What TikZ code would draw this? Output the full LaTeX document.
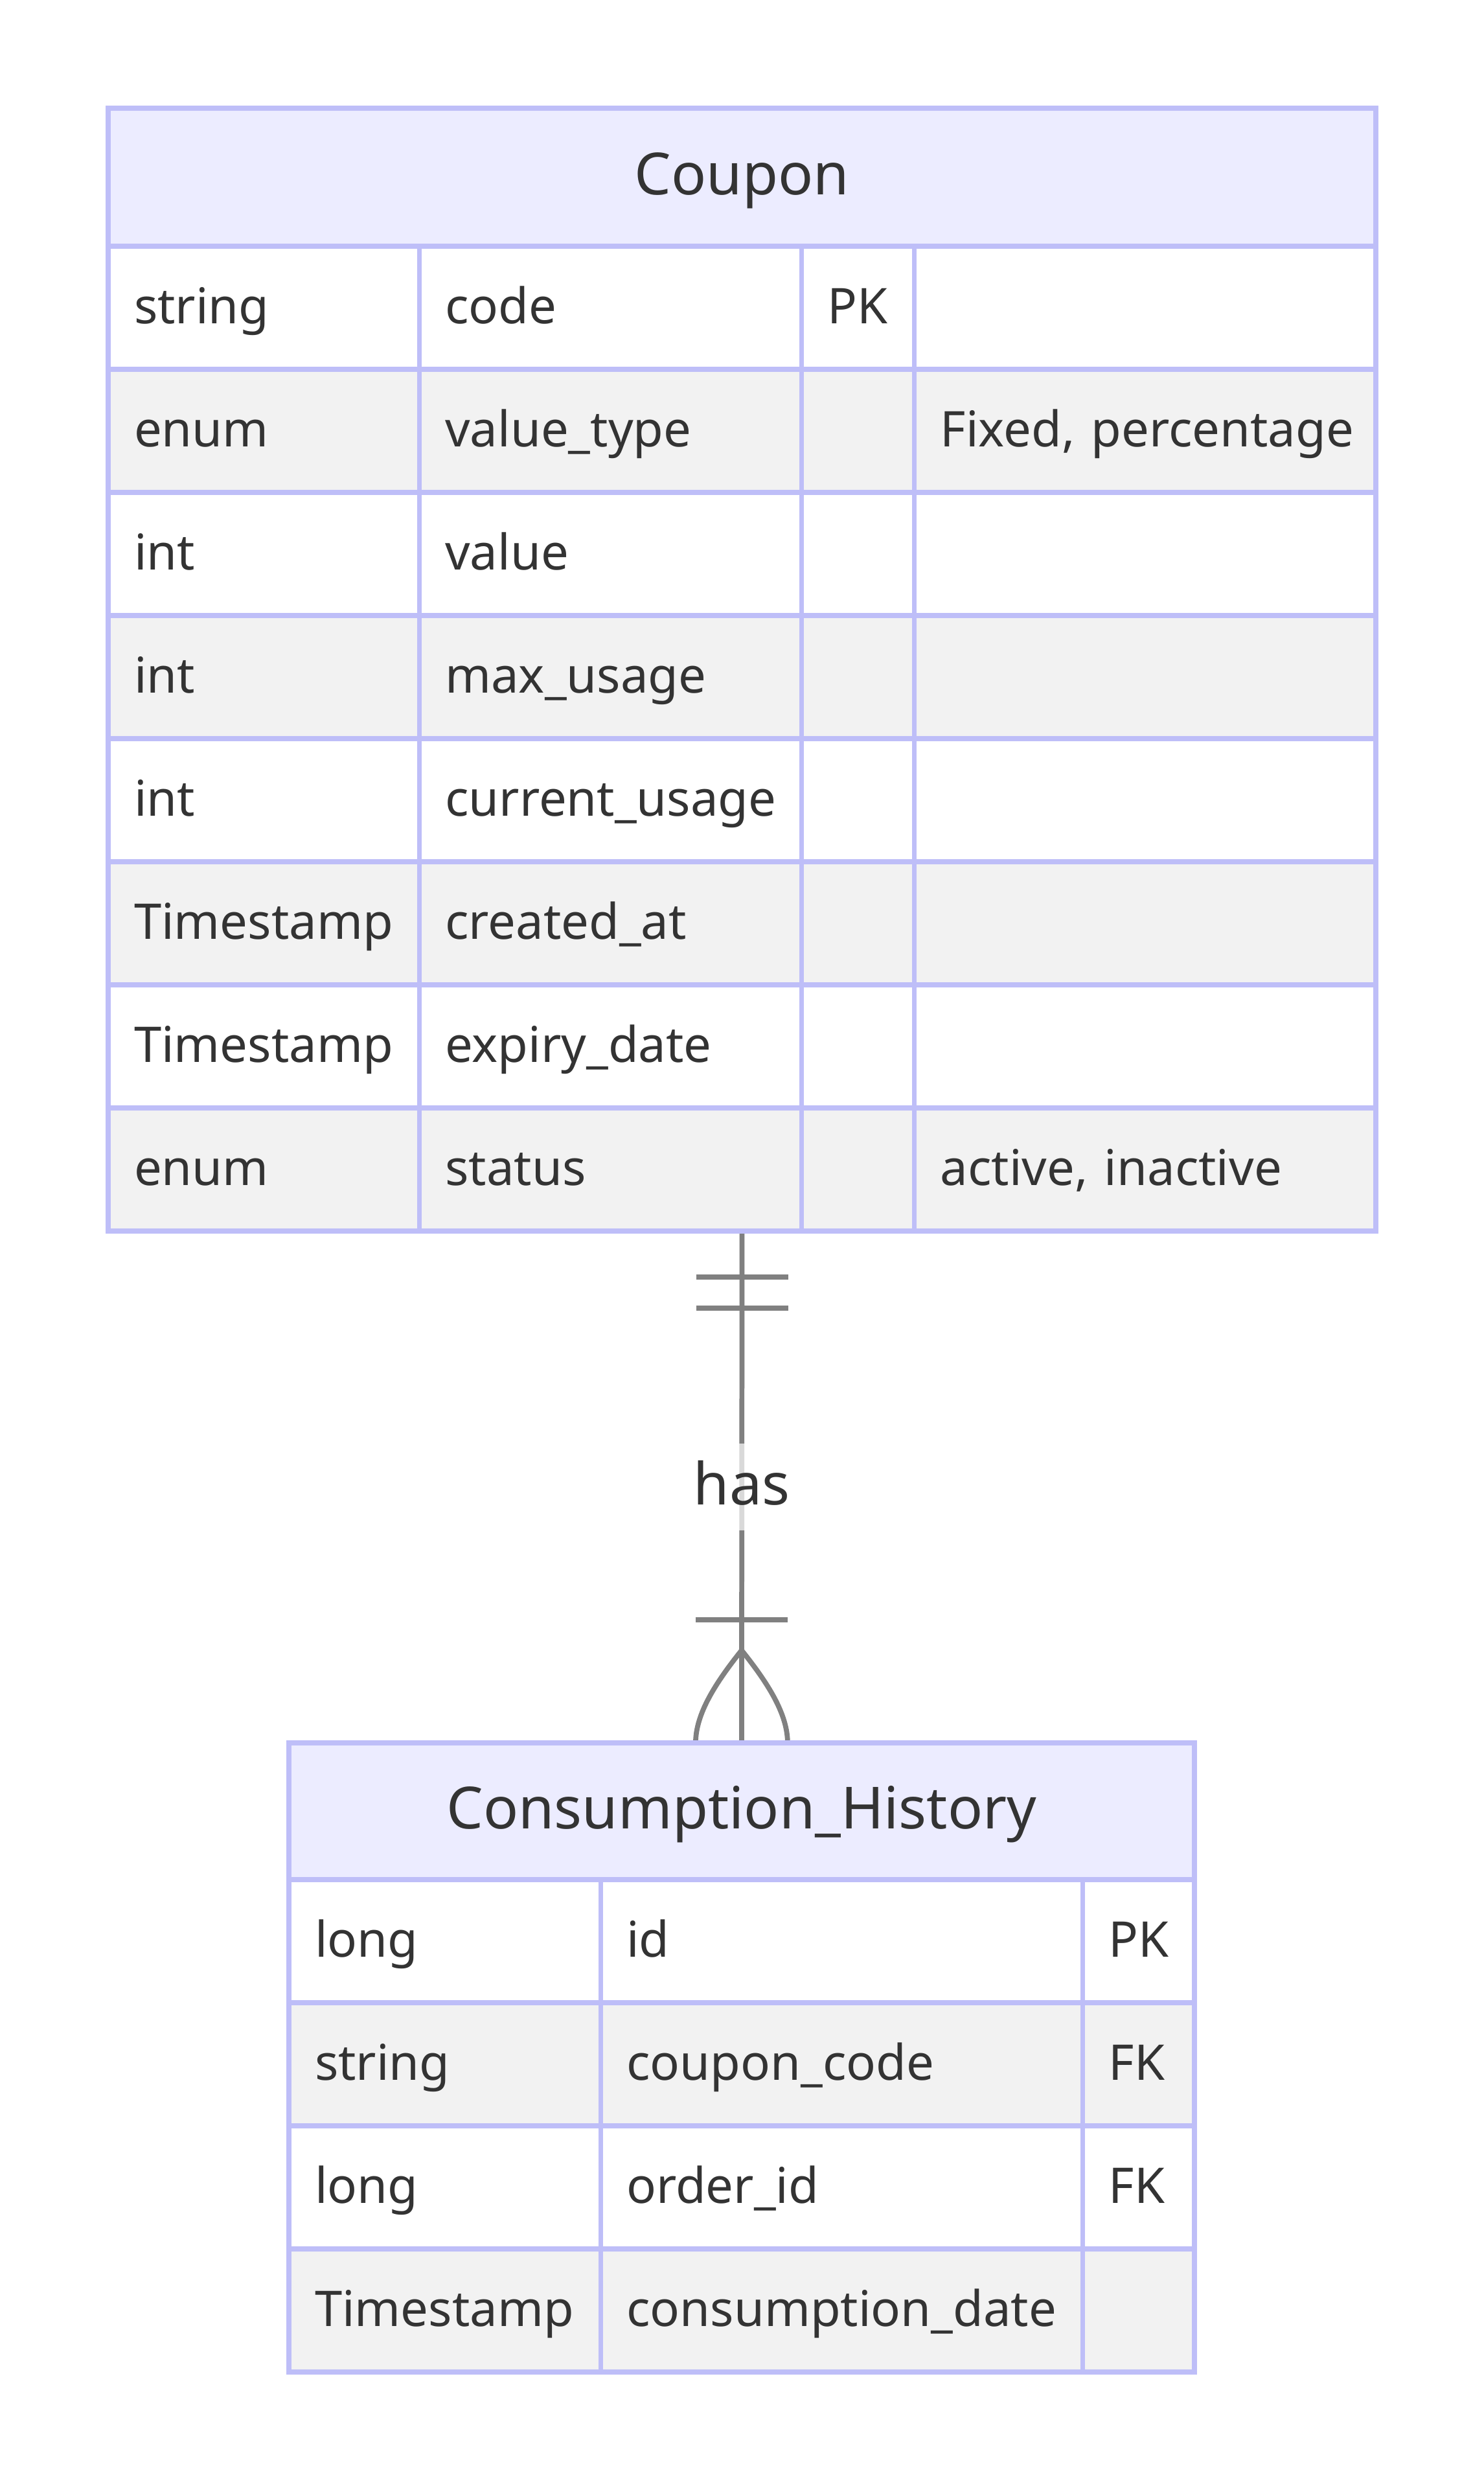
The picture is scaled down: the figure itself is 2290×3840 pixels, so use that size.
\documentclass[tikz,border=0pt]{standalone}
\usepackage{fontspec}
\setmainfont{Noto Sans}
\usepackage{tikz}
\usetikzlibrary{
  positioning,
  calc,
  backgrounds
}
\definecolor{erline}{RGB}{190,190,248}
\definecolor{erhead}{RGB}{236,236,255}
\definecolor{rowgray}{RGB}{242,242,242}
\definecolor{ink}{RGB}{51,51,51}
\definecolor{relgray}{RGB}{128,128,128}

\begin{document}
\begin{tikzpicture}[
    x=0.01cm, y=-0.01cm,
    ehead/.style={draw=erline, line width=2.1pt, fill=erhead, outer sep=0pt,
                  inner sep=0pt, text=ink, font=\fontsize{25.5}{30}\selectfont,
                  text height=0.72cm, text depth=0.18cm, anchor=north west},
    cell/.style={draw=erline, line width=2.1pt, outer sep=0pt,
                 inner xsep=0.4cm, inner ysep=0pt, minimum height=1.9cm,
                 align=left, text=ink, font=\fontsize{21.6}{26}\selectfont,
                 text height=0.62cm, text depth=0.14cm},
    colT/.style={cell, text width=4.00cm},
    colN/.style={cell, text width=5.10cm},
    colK/.style={cell, text width=0.94cm},
    colC/.style={cell, text width=6.32cm},
    hisT/.style={cell, text width=4.01cm},
    hisN/.style={cell, text width=6.64cm},
    hisK/.style={cell, text width=0.92cm},
    rel/.style={draw=relgray, line width=2.2pt},
    lbl/.style={fill=white, fill opacity=0.7, text opacity=1, text=ink,
                font=\fontsize{25.5}{30}\selectfont, inner xsep=2pt,
                inner ysep=0pt, text height=0.72cm, text depth=0.18cm,
                minimum height=1.34cm},
  ]
  \useasboundingbox (0,0) rectangle (2290,3840);

  % ---- Coupon ----
  \node[ehead, minimum width=19.56cm, minimum height=2.13cm] (coupon)
    at (167,167) {Coupon};
  \foreach \t/\n/\k/\c [count=\i] in {
      string/code/PK/{},
      enum/value\_type/{}/{Fixed, percentage},
      int/value/{}/{},
      int/max\_usage/{}/{},
      int/current\_usage/{}/{},
      Timestamp/created\_at/{}/{},
      Timestamp/expiry\_date/{}/{},
      enum/status/{}/{active, inactive}}
  {
    \ifodd\i \def\rf{white}\else \def\rf{rowgray}\fi
    \node[colT, fill=\rf, anchor=north west] (ct\i) at (167, {380+190*(\i-1)}) {\mbox{\t}};
    \node[colN, fill=\rf, right=0pt of ct\i] (cn\i) {\mbox{\n}};
    \node[colK, fill=\rf, right=0pt of cn\i] (ck\i) {\mbox{\k}};
    \node[colC, fill=\rf, right=0pt of ck\i] (cc\i) {\mbox{\c}};
  }

  % ---- Consumption_History ----
  \node[ehead, minimum width=13.97cm, minimum height=2.11cm] (history)
    at (446,2690) {Consumption\_History};
  \foreach \t/\n/\k [count=\i] in {
      long/id/PK,
      string/coupon\_code/FK,
      long/order\_id/FK,
      Timestamp/consumption\_date/{}}
  {
    \ifodd\i \def\rf{white}\else \def\rf{rowgray}\fi
    \node[hisT, fill=\rf, anchor=north west] (ht\i) at (446, {2901+190*(\i-1)}) {\mbox{\t}};
    \node[hisN, fill=\rf, right=0pt of ht\i] (hn\i) {\mbox{\n}};
    \node[hisK, fill=\rf, right=0pt of hn\i] (hk\i) {\mbox{\k}};
  }

  % ---- Relationship ----
  \coordinate (cbot) at (coupon.south |- ct8.south);
  \begin{scope}[on background layer]
    \draw[rel] (cbot) -- node[lbl] (has) {has} (history.north);
    % exactly one (Coupon side)
    \draw[rel] ($(cbot)+(-71,71)$) -- ($(cbot)+(71,71)$);
    \draw[rel] ($(cbot)+(-71,119)$) -- ($(cbot)+(71,119)$);
    % one or many (history side)
    \draw[rel] ($(history.north)+(-71,-190)$) -- ($(history.north)+(71,-190)$);
    \draw[rel] ($(history.north)+(0,-143)$)
      .. controls ($(history.north)+(-40,-93)$) and ($(history.north)+(-71,-45)$)
      .. ($(history.north)+(-71,0)$);
    \draw[rel] ($(history.north)+(0,-143)$)
      .. controls ($(history.north)+(40,-93)$) and ($(history.north)+(71,-45)$)
      .. ($(history.north)+(71,0)$);
  \end{scope}

\end{tikzpicture}
\end{document}
